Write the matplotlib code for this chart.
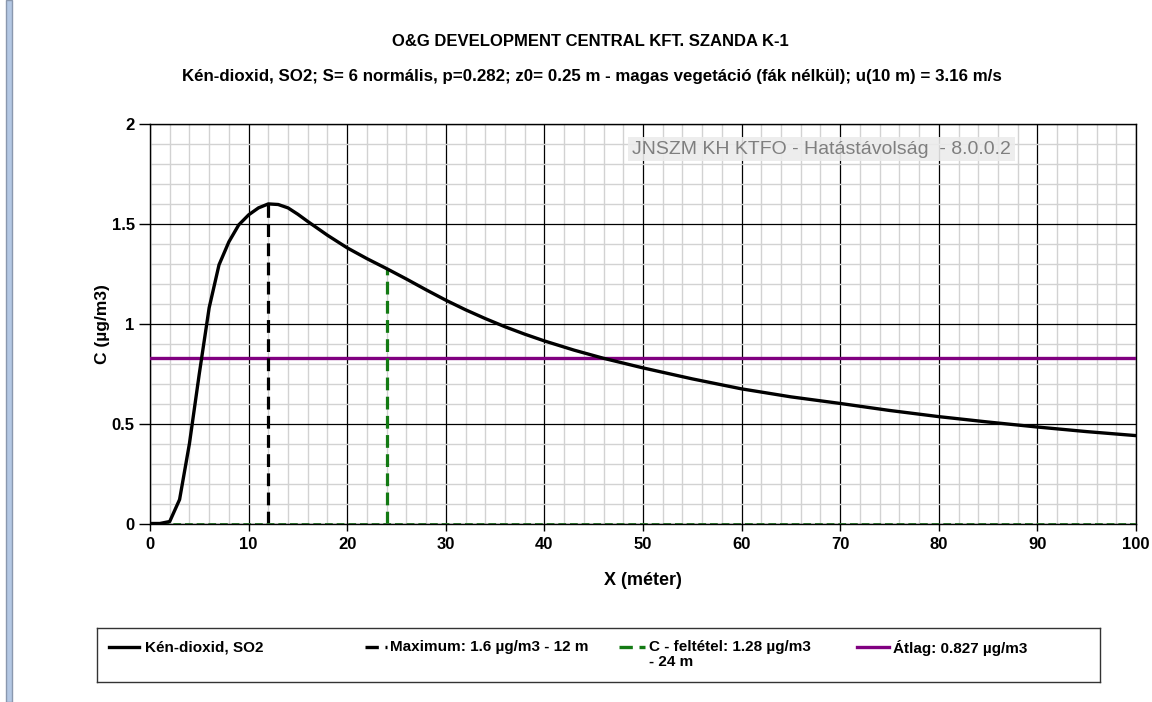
import numpy as np
import matplotlib
matplotlib.use('Agg')
import matplotlib.pyplot as plt
from matplotlib.patches import Rectangle
from matplotlib.ticker import MultipleLocator

plt.rcParams['font.family'] = ['Liberation Sans', 'DejaVu Sans']

# data
x_m = [0, 1, 2, 3, 4, 5, 6, 7, 8, 9, 10, 11, 12, 13, 14, 15, 16, 18, 20, 22, 24, 26, 28, 30,
       32, 34, 36, 38, 40, 43, 46, 50, 55, 60, 65, 70, 75, 80, 85, 90, 95, 100]
conc = [0.0, 0.0, 0.01, 0.12, 0.40, 0.75, 1.08, 1.295, 1.41, 1.495, 1.545, 1.58, 1.60, 1.597,
        1.58, 1.548, 1.512, 1.443, 1.38, 1.326, 1.276, 1.224, 1.17, 1.118,
        1.07, 1.026, 0.985, 0.948, 0.914, 0.868, 0.827, 0.779, 0.724, 0.674, 0.634, 0.601,
        0.566, 0.535, 0.508, 0.483, 0.46, 0.44]
max_x, max_c = 12, 1.6
cond_x, cond_c = 24, 1.28
avg_c = 0.827
x_limit = 100

title = "O&G DEVELOPMENT CENTRAL KFT. SZANDA K-1"
subtitle = ("Kén-dioxid, SO2; S= 6 normális, p=0.282; z0= 0.25 m - magas vegetáció "
            "(fák nélkül); u(10 m) = 3.16 m/s")
legend_labels = ["Kén-dioxid, SO2", "Maximum: 1.6 µg/m3 - 12 m",
                 "C - feltétel: 1.28 µg/m3\n- 24 m", "Átlag: 0.827 µg/m3"]

W, H = 1152, 702
fig = plt.figure(figsize=(W / 100, H / 100), dpi=100)

# screenshot side bar
fig.patches.append(Rectangle((6 / W, 0), 6 / W, 1, transform=fig.transFigure,
                             facecolor='#b4c8e4', edgecolor='#8a98ae', lw=1))

ax = fig.add_axes([150 / W, 1 - 523.5 / H, (1136 - 150) / W, (523.5 - 124) / H])
ax.set_xlim(0, x_limit)
ax.set_ylim(0, 2)
ax.xaxis.set_major_locator(MultipleLocator(10))
ax.xaxis.set_minor_locator(MultipleLocator(2))
ax.yaxis.set_major_locator(MultipleLocator(0.5))
ax.yaxis.set_minor_locator(MultipleLocator(0.1))
ax.yaxis.set_major_formatter(plt.FuncFormatter(lambda v, p: '%g' % v))
ax.grid(which='minor', color='#d2d2d2', lw=1)
ax.grid(which='major', color='black', lw=0.9)
ax.set_axisbelow(True)
ax.tick_params(which='minor', length=0)
ax.tick_params(axis='x', which='major', length=5, width=1, pad=5, labelsize=12)
ax.tick_params(axis='y', which='major', length=8, width=1, pad=3, labelsize=12)
for lab in ax.get_xticklabels() + ax.get_yticklabels():
    lab.set_fontweight('bold')
for s in ax.spines.values():
    s.set_color('black')
    s.set_linewidth(1)

ax.plot(x_m, conc, color='black', lw=2.4, zorder=5)
ax.plot([max_x, max_x], [0, max_c], color='black', lw=2.3, dashes=(4, 2), zorder=4)
ax.plot([cond_x, cond_x], [0, cond_c], color='#137a13', lw=2.3, dashes=(4, 2), zorder=4)
ax.plot([0, x_limit], [0, 0], color='#2a6a2a', lw=1.4, dashes=(4, 2), zorder=4)
ax.axhline(avg_c, color='#800080', lw=2.4, zorder=3)

ax.set_xlabel("X (méter)", fontsize=13, fontweight='bold', labelpad=14)
ax.set_ylabel("C (µg/m3)", fontsize=12.5, fontweight='bold', labelpad=1)

fig.text(590 / W, 1 - 41 / H, title, ha='center', va='center', fontsize=12, fontweight='bold')
fig.text(592 / W, 1 - 77 / H, subtitle, ha='center', va='center', fontsize=12.2, fontweight='bold')

fig.text(632 / W, 1 - 149 / H, "JNSZM KH KTFO - Hatástávolság  - 8.0.0.2", ha='left', va='center',
         fontsize=14, color='#7f7f7f',
         bbox=dict(facecolor='#ebebeb', edgecolor='none', alpha=0.9, boxstyle='square,pad=0.2'))

# legend box
lax = fig.add_axes([97 / W, 1 - 682 / H, (1100 - 97) / W, (682 - 628) / H])
lax.set_xlim(97, 1100)
lax.set_ylim(682, 628)
lax.set_xticks([])
lax.set_yticks([])
for s in lax.spines.values():
    s.set_color('#333333')
    s.set_linewidth(1)
handles = [dict(color='black', lw=2.4),
           dict(color='black', lw=2.4, dashes=(4, 2)),
           dict(color='#137a13', lw=2.4, dashes=(4, 2)),
           dict(color='#800080', lw=2.4)]
hx = [(109, 139), (365, 387), (619, 645), (857, 889)]
tx = [145, 390, 649, 893]
for (x0, x1), t, lab, st in zip(hx, tx, legend_labels, handles):
    lax.plot([x0, x1], [647, 647], **st)
    lax.text(t, 640.5, lab, ha='left', va='top', fontsize=11, fontweight='bold', linespacing=1.05)

fig.savefig('out.png', dpi=100)
